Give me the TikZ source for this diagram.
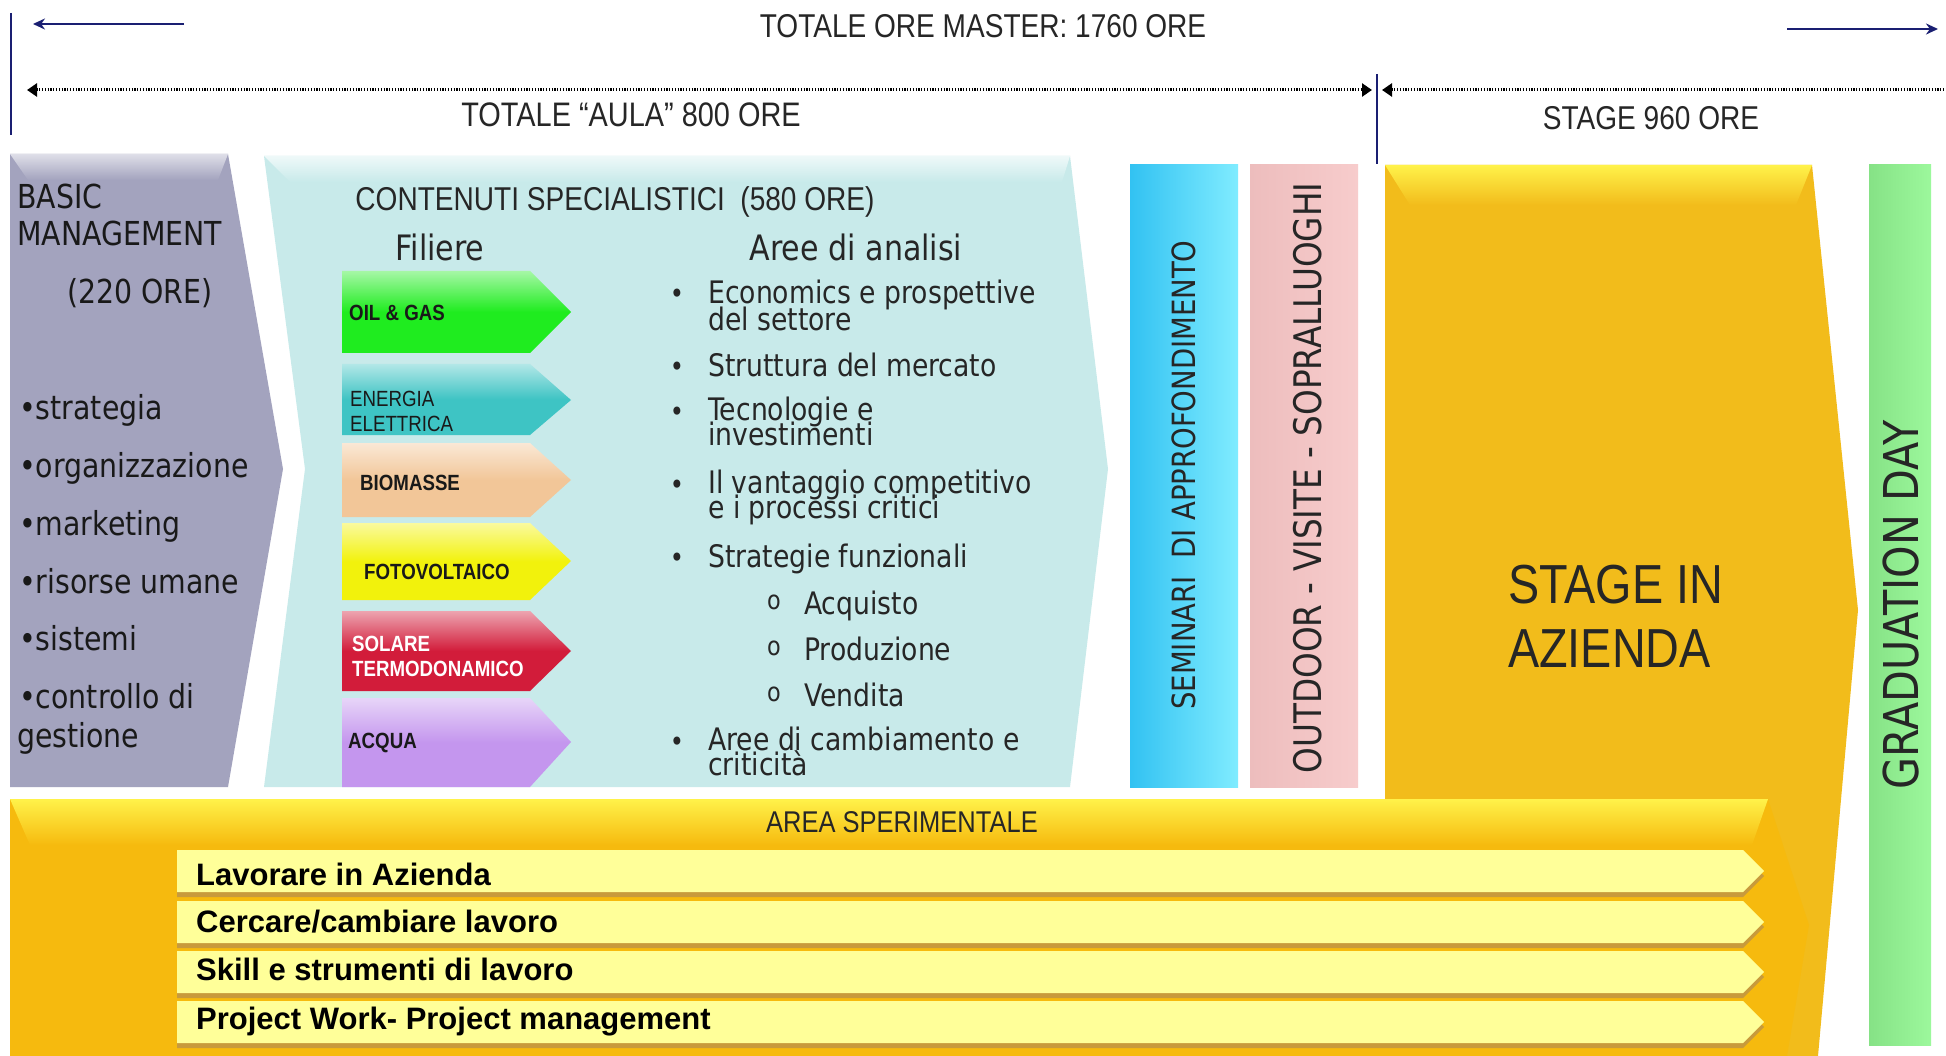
\documentclass[tikz,border=0pt]{standalone}
\usepackage{fontspec}
\setmainfont[FakeStretch=0.86]{DejaVu Sans}
\newfontfamily\narrowfont[FakeStretch=0.85]{Liberation Sans}
\newfontfamily\arialfont{Liberation Sans}
\usetikzlibrary{arrows.meta}
\setlength{\lineskiplimit}{-50pt}

\definecolor{navyline}{HTML}{1A1F72}
\definecolor{basicgrey}{HTML}{A3A3BE}
\definecolor{tealback}{HTML}{C8EAEA}
\definecolor{oilgreen}{HTML}{1FEC1F}
\definecolor{enteal}{HTML}{3EC4C4}
\definecolor{biopeach}{HTML}{F2C698}
\definecolor{fotoyellow}{HTML}{F2F20C}
\definecolor{solred}{HTML}{D21C3A}
\definecolor{acqviolet}{HTML}{C496EE}
\definecolor{semblue}{HTML}{32C2F2}
\definecolor{semlight}{HTML}{80ECFF}
\definecolor{pinkdark}{HTML}{EDBDBD}
\definecolor{pinkback}{HTML}{F7CCCC}
\definecolor{graddark}{HTML}{86E286}
\definecolor{gradgreen}{HTML}{9CF89C}
\definecolor{stagegold}{HTML}{F2BC1B}
\definecolor{stagetop}{HTML}{FFF24A}
\definecolor{areagold}{HTML}{F6BA0E}
\definecolor{barlight}{HTML}{FFFF99}
\definecolor{barshadow}{HTML}{C89A3C}

\begin{document}
\begin{tikzpicture}[x=1pt,y=-1pt,
  navyarrow/.style={draw=navyline,line width=2.5pt,-{Stealth[length=12pt,width=11pt]}},
  navyrule/.style={draw=navyline,line width=1.5pt},
  dotrule/.style={draw=black,line width=3pt,dash pattern=on 1.2pt off 1.6pt},
  filarrow/.style={top color=#1!40!white,bottom color=#1,middle color=#1},
  ybar/.style={fill=barlight},
  ttl/.style={inner sep=0pt,text=black!85,font=\narrowfont\fontsize{33}{36}\selectfont},
  basictxt/.style={inner sep=0pt,anchor=mid west,text=black!90,font=\fontsize{33}{36}\selectfont},
  hdtxt/.style={inner sep=0pt,text=black!85,font=\fontsize{35}{40}\selectfont},
  filtxt/.style={inner sep=0pt,anchor=mid west,text=black!90,font=\narrowfont\bfseries\fontsize{22}{24}\selectfont},
  areatxt/.style={inner sep=0pt,anchor=mid west,text=black!85,font=\fontsize{31}{34}\selectfont},
  areatwo/.style={inner sep=0pt,anchor=north west,align=left,text=black!85,font={\fontsize{31}{#1}\selectfont}},
  dottxt/.style={inner sep=0pt,anchor=mid,text=black!85,font=\fontsize{28}{30}\selectfont},
  vtxt/.style={inner sep=0pt,rotate=90,text=black!85},
  bartxt/.style={inner sep=0pt,anchor=mid west,text=black,font=\arialfont\bfseries\fontsize{31}{34}\selectfont}]
\useasboundingbox (0,0) rectangle (1946,1056);
\fill[white] (0,0) rectangle (1946,1056);

\coordinate (ml1) at (184,24);
\coordinate (ml2) at (33,24);
\coordinate (mr1) at (1787,29);
\coordinate (mr2) at (1938,29);
\coordinate (vl1) at (11,13);
\coordinate (vl2) at (11,135);
\coordinate (vm1) at (1377,74);
\coordinate (vm2) at (1377,164);
\coordinate (aulaL) at (27,90);
\coordinate (aulaR) at (1372,90);
\coordinate (stgL) at (1382,90);
\coordinate (stgR) at (1950,90);
\draw[navyarrow] (ml1) -- (ml2);
\draw[navyarrow] (mr1) -- (mr2);
\draw[navyrule] (vl1) -- (vl2);
\draw[navyrule] (vm1) -- (vm2);
\draw[dotrule,{Triangle[length=10pt,width=13pt]}-{Triangle[length=10pt,width=13pt]}] (aulaL) -- (aulaR);
\draw[dotrule,{Triangle[length=10pt,width=13pt]}-] (stgL) -- (stgR);
\node[ttl] (master) at (983,26) {TOTALE ORE MASTER: 1760 ORE};
\node[ttl,font=\narrowfont\fontsize{34}{36}\selectfont] (aula) at (631,115) {TOTALE “AULA” 800 ORE};
\node[ttl] (stage960) at (1651,118) {STAGE 960 ORE};

\fill[basicgrey] (10,154) -- (228,154) -- (283,469) -- (228,787) -- (10,787) -- cycle;
\shade[top color=basicgrey!35!white,bottom color=basicgrey] (10,154) -- (228,154) -- (218,180) -- (28,180) -- cycle;
\node[basictxt] (basic) at (17,206) {BASIC};
\node[basictxt] (manag) at (17,243) {MANAGEMENT};
\node[basictxt,anchor=mid] (ore220) at (140,301) {(220 ORE)};
\node[basictxt] (b1) at (19,417) {•strategia};
\node[basictxt] (b2) at (19,475) {•organizzazione};
\node[basictxt] (b3) at (19,533) {•marketing};
\node[basictxt] (b4) at (19,591) {•risorse umane};
\node[basictxt] (b5) at (19,648) {•sistemi};
\node[basictxt] (b6) at (19,706) {•controllo di};
\node[basictxt] (b7) at (17,745) {gestione};

\fill[tealback] (264,156) -- (1070,156) -- (1108,469) -- (1070,787) -- (264,787) -- (305,469) -- cycle;
\shade[top color=tealback!30!white,bottom color=tealback] (264,156) -- (1070,156) -- (1062,182) -- (290,182) -- cycle;
\node[ttl] (contenuti) at (615,202) {CONTENUTI SPECIALISTICI\ \ (580 ORE)};
\node[hdtxt] (filiere) at (440,247) {Filiere};
\node[hdtxt] (aree) at (856,247) {Aree di analisi};

\shade[filarrow=oilgreen] (342,271) -- (530,271) -- (571,312) -- (530,353) -- (342,353) -- cycle;
\shade[filarrow=enteal] (342,364) -- (530,364) -- (571,400) -- (530,435) -- (342,435) -- cycle;
\shade[filarrow=biopeach] (342,443) -- (530,443) -- (571,480) -- (530,517) -- (342,517) -- cycle;
\shade[filarrow=fotoyellow] (342,523) -- (530,523) -- (571,561) -- (530,600) -- (342,600) -- cycle;
\shade[filarrow=solred] (342,611) -- (530,611) -- (571,651) -- (530,691) -- (342,691) -- cycle;
\shade[filarrow=acqviolet] (342,698) -- (530,698) -- (571,742) -- (530,787) -- (342,787) -- cycle;
\node[filtxt] (oil) at (349,318) {OIL \& GAS};
\node[filtxt,font=\narrowfont\fontsize{22}{24}\selectfont] (ener1) at (350,404) {ENERGIA};
\node[filtxt,font=\narrowfont\fontsize{22}{24}\selectfont] (ener2) at (350,429) {ELETTRICA};
\node[filtxt] (bio) at (360,488) {BIOMASSE};
\node[filtxt] (foto) at (364,577) {FOTOVOLTAICO};
\node[filtxt,text=white] (sol1) at (352,649) {SOLARE};
\node[filtxt,text=white] (sol2) at (352,674) {TERMODONAMICO};
\node[filtxt] (acq) at (348,746) {ACQUA};

\node[dottxt] (d1) at (677,301) {•};
\node[dottxt] (d2) at (677,374) {•};
\node[dottxt] (d3) at (677,419) {•};
\node[dottxt] (d4) at (677,492) {•};
\node[dottxt] (d5) at (677,565) {•};
\node[dottxt] (d6) at (677,749) {•};
\node[areatwo=27] (a1) at (708,280) {Economics e prospettive\\del settore};
\node[areatxt] (a2) at (708,374) {Struttura del mercato};
\node[areatwo=25] (a3) at (708,397) {Tecnologie e\\investimenti};
\node[areatwo=25] (a4) at (708,470) {Il vantaggio competitivo\\e i processi critici};
\node[areatxt] (a5) at (708,565) {Strategie funzionali};
\node[dottxt,font=\fontsize{26}{28}\selectfont] (o1) at (774,607) {o};
\node[dottxt,font=\fontsize{26}{28}\selectfont] (o2) at (774,653) {o};
\node[dottxt,font=\fontsize{26}{28}\selectfont] (o3) at (774,699) {o};
\node[areatxt] (s1) at (804,612) {Acquisto};
\node[areatxt] (s2) at (804,658) {Produzione};
\node[areatxt] (s3) at (804,704) {Vendita};
\node[areatwo=25] (a6) at (708,727) {Aree di cambiamento e\\criticità};

\shade[left color=semblue,right color=semlight] (1130,165) rectangle (1238,787);
\shade[left color=pinkdark,right color=pinkback] (1250,165) rectangle (1358,787);
\node[vtxt,font=\fontsize{32}{36}\selectfont] (seminari) at (1184,475) {SEMINARI\ \ DI APPROFONDIMENTO};
\node[vtxt,font=\fontsize{38}{42}\selectfont] (outdoor) at (1308,478) {OUTDOOR - VISITE - SOPRALLUOGHI};

\fill[stagegold] (1385,165) -- (1812,165) -- (1858,610) -- (1818,1056) -- (1385,1056) -- cycle;
\shade[top color=stagetop,bottom color=stagegold] (1385,165) -- (1812,165) -- (1796,205) -- (1410,205) -- cycle;
\node[inner sep=0pt,anchor=mid west,text=black!85,font=\narrowfont\fontsize{55}{60}\selectfont] (stage1) at (1508,601) {STAGE IN};
\node[inner sep=0pt,anchor=mid west,text=black!85,font=\narrowfont\fontsize{55}{60}\selectfont] (stage2) at (1508,665) {AZIENDA};

\shade[left color=graddark,right color=gradgreen] (1869,165) rectangle (1931,1045);
\node[vtxt,font=\fontsize{48}{52}\selectfont] (grad) at (1901,605) {GRADUATION DAY};

\fill[areagold] (10,799) -- (1768,799) -- (1809,925) -- (1787,1056) -- (10,1056) -- cycle;
\shade[top color=stagetop,bottom color=areagold] (10,799) -- (1768,799) -- (1752,845) -- (30,845) -- cycle;
\node[ttl,font=\narrowfont\fontsize{30}{34}\selectfont] (sperim) at (902,822) {AREA SPERIMENTALE};

\fill[barshadow] (177,855) -- (1743,855) -- (1764,876) -- (1743,897) -- (177,897) -- cycle;
\fill[ybar] (177,850) -- (1743,850) -- (1764,871) -- (1743,892) -- (177,892) -- cycle;
\fill[barshadow] (177,906) -- (1743,906) -- (1764,927) -- (1743,948) -- (177,948) -- cycle;
\fill[ybar] (177,901) -- (1743,901) -- (1764,922) -- (1743,943) -- (177,943) -- cycle;
\fill[barshadow] (177,956) -- (1743,956) -- (1764,977) -- (1743,998) -- (177,998) -- cycle;
\fill[ybar] (177,951) -- (1743,951) -- (1764,972) -- (1743,993) -- (177,993) -- cycle;
\fill[barshadow] (177,1006) -- (1743,1006) -- (1764,1027) -- (1743,1048) -- (177,1048) -- cycle;
\fill[ybar] (177,1001) -- (1743,1001) -- (1764,1022) -- (1743,1043) -- (177,1043) -- cycle;
\node[bartxt] (lav) at (196,883) {Lavorare in Azienda};
\node[bartxt] (cerc) at (196,930) {Cercare/cambiare lavoro};
\node[bartxt] (skill) at (196,978) {Skill e strumenti di lavoro};
\node[bartxt] (proj) at (196,1027) {Project Work- Project management};
\end{tikzpicture}
\end{document}
